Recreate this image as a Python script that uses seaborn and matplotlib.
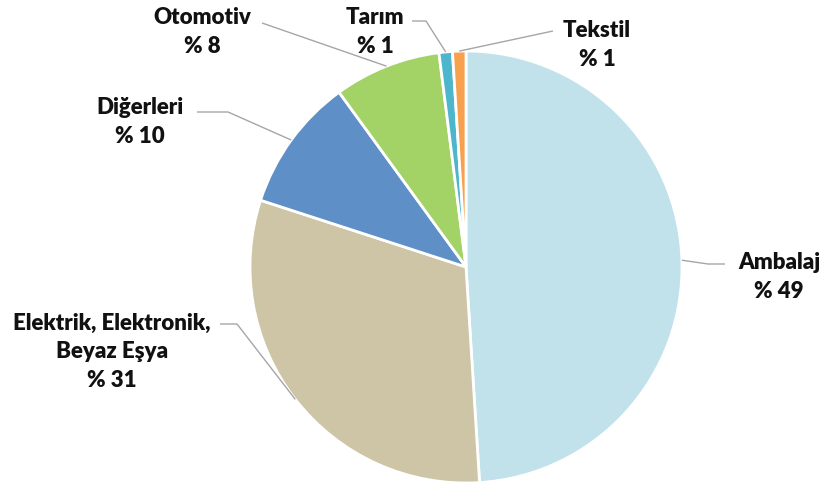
import numpy as np
import matplotlib
matplotlib.use("Agg")
import matplotlib.pyplot as plt
import seaborn as sns

sectors = ["Ambalaj", "Elektrik, Elektronik,\nBeyaz Eşya", "Diğerleri", "Otomotiv", "Tarım", "Tekstil"]
shares = [49, 31, 10, 8, 1, 1]
colors = ["#C1E2EA", "#CEC5A6", "#5E8FC6", "#A3D267", "#4DB6CD", "#F7A14E"]

sns.set_style("white")
plt.rcParams["font.family"] = ["Lato", "DejaVu Sans"]

W, H = 820, 485
CX, CY, R = 466, 268, 216


def px(x, y):
    # pixel position -> data coords (pie radius = 1)
    return (x - CX) / R, (CY - y) / R


fig = plt.figure(figsize=(W / 100, H / 100), dpi=100)
ax = fig.add_axes([0, 0, 1, 1])
wedges, _ = ax.pie(shares, colors=colors, startangle=90, counterclock=False,
                   radius=1, wedgeprops=dict(edgecolor="white", linewidth=2))
ax.set_xlim(-CX / R, (W - CX) / R)
ax.set_ylim(-(H - CY) / R, CY / R)
ax.set_aspect("equal")
ax.axis("off")

# label centre and leader path (pixels) for each slice
label_pos = [(779, 277), (112, 352), (140, 122), (202, 32), (375, 32), (597, 45)]
leader_pts = [[(725, 265), (708, 265)],
              [(220, 325), (237, 325)],
              [(197, 113), (228, 113)],
              [(262, 24)],
              [(412, 22), (426, 22)],
              [(553, 32)]]

for w, name, val, lp, pts in zip(wedges, sectors, shares, label_pos, leader_pts):
    mid = np.deg2rad((w.theta1 + w.theta2) / 2)
    ax_, ay_ = np.cos(mid), np.sin(mid)
    path = [px(*p) for p in pts] + [(ax_, ay_)]
    xs, ys = zip(*path)
    ax.plot(xs, ys, color="#A6A6A6", lw=1, solid_capstyle="butt")
    tx, ty = px(*lp)
    ax.text(tx, ty, f"{name}\n% {val}", ha="center", va="center",
            fontsize=16, fontweight="heavy", color="#111111", linespacing=1.42)

fig.savefig("out.png", dpi=100)
